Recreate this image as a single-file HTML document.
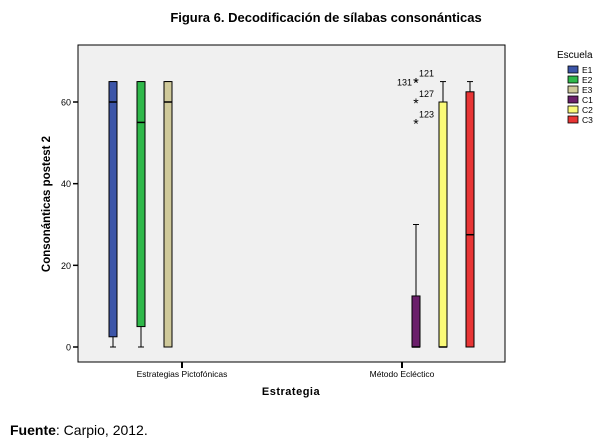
<!DOCTYPE html>
<html><head><meta charset="utf-8"><style>
body{margin:0;background:#fff;}
svg{display:block;font-family:"Liberation Sans",Arial,sans-serif;}
</style></head><body>
<svg id="chart" width="612" height="441" viewBox="0 0 612 441">
<text x="326" y="22" text-anchor="middle" font-size="13" font-weight="bold">Figura 6. Decodificación de sílabas consonánticas</text>
<rect x="78" y="45" width="427" height="317" fill="#f0f0f0" stroke="#000" stroke-width="1"/>
<g id="yaxis"></g>
<g id="xaxis"></g>
<g id="boxes"></g>
<text transform="translate(50,204) rotate(-90)" text-anchor="middle" font-size="11.5" font-weight="bold">Consonánticas postest 2</text>
<text x="291" y="395" text-anchor="middle" font-size="11" font-weight="bold" letter-spacing="0.5">Estrategia</text>
<g id="legend">
<text x="557" y="58" font-size="10">Escuela</text>
</g>
<text x="10" y="435" font-size="14"><tspan font-weight="bold">Fuente</tspan>: Carpio, 2012.</text>
</svg>
<script>
const categories=["Estrategias Pictofónicas","Método Ecléctico"];
const schools=["E1","E2","E3","C1","C2","C3"];
const colors=["#3c55a8","#2fb84a","#cfc99a","#6b1f6b","#fafa78","#e83535"];
const schoolCat=[0,0,0,1,1,1];
const whiskerLow=[0,0,0,0,0,0];
const q1=[2.5,5,0,0,0,0];
const median=[60,55,60,0,0,27.5];
const q3=[65,65,65,12.5,60,62.5];
const whiskerHigh=[65,65,65,30,65,65];
const outlierSchool=[3,3,3,3];
const outlierValue=[65,65,60,55];
const outlierLabel=["121","131","127","123"];
const yTicks=[0,20,40,60];
const NS="http://www.w3.org/2000/svg";
const y=v=>347-v*(245/60);
const catX=[182,402];
const offs=[-69,-41,-14,14,41,68];
const x=i=>catX[schoolCat[i]]+offs[i];
function mk(p,tag,a){const e=document.createElementNS(NS,tag);for(const k in a)e.setAttribute(k,a[k]);p.appendChild(e);return e;}
const ya=document.getElementById('yaxis');
yTicks.forEach(t=>{
 const l=mk(ya,'line',{x1:73,x2:78,y1:y(t),y2:y(t),stroke:'#000','stroke-width':1.5});
 
 
 const tx=mk(ya,'text',{x:71,y:y(t)+3.5,'text-anchor':'end','font-size':9});
 tx.textContent=t;
 
 
});
const xa=document.getElementById('xaxis');
categories.forEach((c,i)=>{
 const l=mk(xa,'line',{x1:catX[i],x2:catX[i],y1:362,y2:368,stroke:'#000','stroke-width':2});
 
 
 const tx=mk(xa,'text',{x:catX[i],y:377,'text-anchor':'middle','font-size':8.5});
 tx.textContent=c;
 
 
});
const bx=document.getElementById('boxes');
schools.forEach((s,i)=>{
 const cx=x(i),w=8;
 const g=mk(bx,'g',{});
 
 
 mk(g,'line',{x1:cx,x2:cx,y1:y(whiskerHigh[i]),y2:y(whiskerLow[i]),stroke:'#000','stroke-width':1});
 mk(g,'line',{x1:cx-3,x2:cx+3,y1:y(whiskerHigh[i]),y2:y(whiskerHigh[i]),stroke:'#000'});
 mk(g,'line',{x1:cx-3,x2:cx+3,y1:y(whiskerLow[i]),y2:y(whiskerLow[i]),stroke:'#000'});
 mk(g,'rect',{x:cx-w/2,y:y(q3[i]),width:w,height:Math.max(y(q1[i])-y(q3[i]),0.5),fill:colors[i],stroke:'#000','stroke-width':1});
 mk(g,'line',{x1:cx-w/2,x2:cx+w/2,y1:y(median[i]),y2:y(median[i]),stroke:'#000','stroke-width':1.5});
});
outlierValue.forEach((v,k)=>{
 const cx=x(outlierSchool[k]);
 const st=mk(bx,'text',{x:cx,y:y(v)+6,'text-anchor':'middle','font-size':14});
 st.textContent='*';
 
 
 const right=k!==1;
 const lb=mk(bx,'text',{x:right?cx+3:cx-4,y:y(v)-(right?5:-4),'text-anchor':right?'start':'end','font-size':9});
 lb.textContent=outlierLabel[k];
 
 
});
const lg=document.getElementById('legend');
schools.forEach((s,i)=>{
 const yy=66+i*10;
 const r=mk(lg,'rect',{x:568,y:yy,width:10,height:7,fill:colors[i],stroke:'#000','stroke-width':0.8});
 
 
 const t=mk(lg,'text',{x:582,y:yy+7,'font-size':8.5});
 t.textContent=s;
 
 
});
</script>
</body></html>
